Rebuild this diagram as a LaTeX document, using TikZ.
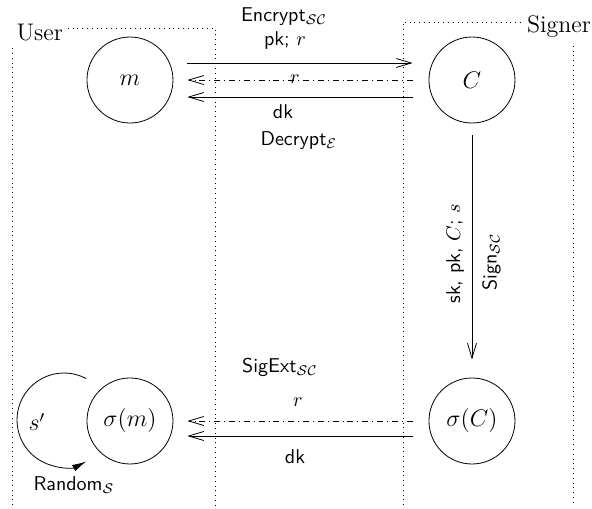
\documentclass[tikz,border=0pt]{standalone}
\usetikzlibrary{arrows.meta}
\tikzset{
  state/.style={circle,draw,minimum size=43pt,inner sep=0pt,font=\large},
  party/.style={dotted},
  tag/.style={fill=white,font=\rmfamily\large,inner sep=2.5pt},
}
\begin{document}
\begin{tikzpicture}[>={Straight Barb[length=7.5pt,width=4.5pt]}, font=\sffamily, line join=round]
\useasboundingbox (0,0) rectangle (10.403,8.927);
\path (0.211,0.053) coordinate (U_1) (3.778,0.053) coordinate (U_2) (7.082,0.053) coordinate (S_1) (10.069,0.053) coordinate (S_2) (1.125,1.546) coordinate (L);
% the two parties
\draw[party] (U_1) |- (3.778,8.435) -- (U_2);
\draw[party] (S_1) |- (10.069,8.541) -- (S_2);
\node[tag] (user) at (0.700,8.347) {User};
\node[tag] (signer) at (9.823,8.453) {Signer};
% values
\foreach \n/\p/\t in {m/{2.284,7.521}/m, C/{8.294,7.521}/C, sm/{2.284,1.529}/\sigma(m), sC/{8.294,1.529}/\sigma(C)}
  \node[state] (\n) at (\p) {$\t$};
\node[font=\large] (s) at (0.650,1.511) {$s'$};
% messages
\draw[->,shorten <=7pt,shorten >=8pt] ([yshift=8.5pt]m.east) -- ([yshift=8.5pt]C.west);
\draw[->,dash dot,shorten <=8pt,shorten >=7pt] (C) -- (m);
\draw[->,shorten <=8pt,shorten >=7pt] ([yshift=-8.5pt]C.west) -- ([yshift=-8.5pt]m.east);
\draw[->,shorten <=6pt,shorten >=9pt] (C) -- (sC);
\draw[->,dash dot,shorten <=8pt,shorten >=7pt] (sC) -- (sm);
\draw[->,shorten <=8pt,shorten >=7pt] ([yshift=-7.5pt]sC.west) -- ([yshift=-7.5pt]sm.east);
\draw[-{Latex[length=7pt,width=3.5pt]}] (L) ++(62:0.826) arc[start angle=62,end angle=298,radius=0.826];
% labels
\node (enc) at (4.991,8.628) {Encrypt$_{\mathcal{SC}}$};
\node (pk) at (5.008,8.224) {pk; $r$};
\node (r_1) at (5.184,7.539) {$r$};
\node (dk_1) at (4.973,6.959) {dk};
\node (dec) at (5.254,6.449) {Decrypt$_{\mathcal{E}}$};
\node[rotate=90] (sk) at (7.996,4.464) {sk, pk, $C$; $s$};
\node[rotate=90] (sign) at (8.637,4.323) {Sign$_{\mathcal{SC}}$};
\node (ext) at (4.920,2.478) {SigExt$_{\mathcal{SC}}$};
\node (r_2) at (5.237,1.863) {$r$};
\node (dk_2) at (5.184,0.896) {dk};
\node (rnd) at (1.300,0.404) {Random$_{\mathcal{S}}$};
\end{tikzpicture}
\end{document}
